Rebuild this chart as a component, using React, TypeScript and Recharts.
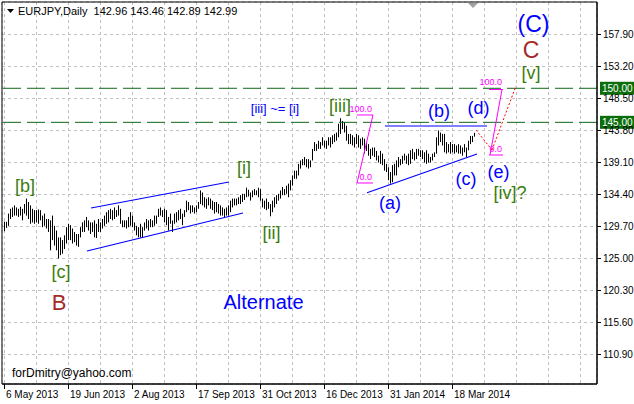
import { ComposedChart, XAxis, YAxis, CartesianGrid, Bar, ReferenceLine, ReferenceDot, ReferenceArea } from 'recharts';

// EURJPY daily bars, 6 May 2013 onwards (index = trading day)
const highs = [
  130.4, 130.4, 131.6, 132.3, 132.5, 132.8, 132.5, 132.3, 132.6, 132.3,
  133.0, 133.8, 133.3, 132.8, 132.3, 132.1, 132.1, 132.2, 132.1, 131.3,
  131.6, 130.8, 130.8, 130.6, 131.3, 129.8, 129.1, 128.1, 128.1, 127.7,
  128.4, 129.6, 130.1, 129.9, 129.4, 128.9, 128.6, 128.6, 129.6, 130.3,
  130.6, 131.1, 130.6, 130.3, 130.3, 130.6, 130.1, 130.8, 130.3, 130.8,
  131.3, 131.8, 132.1, 132.3, 132.1, 132.5, 132.1, 132.8, 132.3, 130.6,
  130.6, 130.6, 131.1, 131.8, 131.3, 130.3, 129.8, 129.6, 130.1, 129.6,
  130.3, 130.8, 130.6, 130.8, 130.6, 131.3, 131.3, 132.3, 132.5, 132.1,
  132.3, 132.1, 131.1, 131.6, 130.6, 131.6, 131.8, 132.1, 132.3, 131.6,
  132.1, 133.5, 133.3, 132.8, 132.8, 132.5, 132.8, 133.3, 135.0, 134.7,
  134.0, 133.8, 134.0, 133.8, 133.5, 133.3, 133.3, 133.0, 132.8, 132.5,
  132.3, 132.5, 132.8, 133.5, 133.8, 133.8, 133.8, 134.0, 134.3, 134.5,
  134.5, 135.4, 135.1, 134.7, 135.0, 135.2, 135.0, 135.4, 135.2, 133.8,
  133.5, 133.8, 133.3, 133.0, 133.5, 134.0, 134.3, 134.5, 135.0, 135.5,
  135.2, 135.7, 136.0, 136.5, 137.2, 137.9, 137.9, 138.9, 139.4, 139.6,
  139.9, 139.6, 139.6, 139.4, 141.1, 142.1, 141.8, 142.3, 142.1, 142.8,
  142.3, 142.3, 142.8, 142.8, 143.1, 143.3, 143.5, 144.8, 145.6, 145.2,
  145.0, 144.5, 143.3, 143.3, 143.1, 142.8, 143.3, 143.1, 142.6, 142.8,
  142.6, 142.1, 141.8, 141.1, 141.3, 141.3, 140.8, 140.1, 140.8, 140.4,
  139.6, 138.9, 138.4, 137.7, 138.7, 138.9, 139.4, 139.9, 139.6, 140.1,
  140.4, 140.1, 140.4, 140.9, 141.1, 140.6, 141.1, 141.1, 140.9, 140.9,
  140.6, 140.9, 140.4, 139.9, 140.4, 140.6, 142.8, 143.8, 143.5, 143.3,
  143.3, 142.1, 141.8, 142.1, 141.8, 141.8, 141.6, 141.8, 141.6, 141.3,
  141.8, 141.3, 142.3, 143.0, 143.0, 143.46,
];
const lows = [
  129.0, 129.5, 129.8, 130.8, 131.1, 131.3, 131.3, 131.1, 131.3, 130.6,
  131.6, 131.3, 130.8, 130.1, 130.3, 130.1, 130.3, 130.1, 130.6, 129.6,
  129.8, 129.4, 128.9, 126.2, 127.7, 126.9, 126.2, 125.0, 125.5, 125.7,
  126.4, 127.2, 127.7, 127.7, 127.2, 127.4, 126.9, 126.7, 128.1, 128.9,
  128.9, 129.6, 129.1, 128.6, 128.9, 128.1, 128.0, 128.9, 128.9, 129.4,
  129.8, 130.1, 130.3, 130.8, 130.6, 130.8, 131.1, 131.3, 130.1, 129.6,
  129.6, 129.4, 129.6, 129.8, 129.6, 129.1, 128.4, 128.1, 128.1, 128.0,
  129.1, 129.4, 129.1, 129.6, 129.6, 129.8, 130.1, 131.1, 131.3, 131.1,
  130.3, 129.9, 129.1, 130.1, 128.9, 130.1, 130.3, 130.6, 130.8, 129.9,
  131.1, 131.8, 132.1, 131.6, 131.8, 131.6, 131.8, 132.3, 133.0, 132.8,
  132.5, 132.3, 132.8, 132.3, 132.1, 131.6, 131.8, 131.6, 131.3, 131.3,
  131.1, 131.3, 131.3, 131.8, 132.5, 132.8, 132.8, 133.0, 133.0, 133.3,
  133.6, 134.0, 134.1, 133.5, 134.0, 134.3, 134.3, 134.0, 133.5, 132.5,
  132.3, 132.1, 132.3, 131.2, 131.8, 132.5, 133.0, 133.5, 133.8, 134.3,
  134.3, 134.5, 134.0, 135.0, 135.7, 136.7, 136.7, 137.2, 138.2, 138.7,
  138.7, 138.4, 138.2, 138.4, 139.4, 140.8, 140.8, 141.1, 141.1, 141.6,
  141.3, 141.1, 141.6, 141.3, 141.8, 142.1, 142.3, 142.8, 143.3, 144.0,
  143.5, 142.3, 141.8, 141.8, 141.6, 141.3, 141.8, 141.3, 141.1, 141.6,
  140.4, 140.8, 140.1, 139.6, 140.1, 139.9, 139.4, 139.1, 138.9, 138.7,
  137.9, 137.7, 136.5, 136.0, 136.2, 137.2, 137.2, 138.4, 138.7, 138.9,
  139.4, 138.9, 138.7, 138.9, 139.6, 139.4, 139.6, 140.1, 139.9, 139.6,
  139.1, 138.9, 139.1, 139.1, 139.4, 139.9, 140.4, 141.6, 142.1, 141.6,
  140.6, 140.4, 140.6, 140.4, 140.6, 140.4, 140.6, 140.4, 140.4, 140.1,
  140.6, 139.9, 140.9, 141.8, 142.1, 142.89,
];

const titleValues = ['142.96', '143.46', '142.89', '142.99'];
const xTicks = [0, 16, 32, 48, 64, 80, 96, 112, 128, 144, 160, 176, 192, 208, 224, 240, 256, 272, 288];
const dateLabels = ['6 May 2013', '19 Jun 2013', '2 Aug 2013', '17 Sep 2013', '31 Oct 2013', '16 Dec 2013', '31 Jan 2014', '18 Mar 2014'];
const priceTicks = [110.9, 115.6, 120.3, 125.0, 129.7, 134.4, 139.1, 143.8, 148.5, 153.2, 157.9];
const levels = [145, 150];

// trend lines: [i1, p1, i2, p2]
const blueLines = [
  [43.25, 132.42, 112.25, 136.24],
  [41.25, 126.1, 119.25, 131.68],
  [190.25, 144.46, 241.25, 144.46],
  [181.25, 134.66, 236.25, 140.35],
];
const fibLines = [
  [176.25, 146.08, 184.25, 146.08],
  [176.25, 136.09, 184.25, 136.09],
  [184.25, 146.08, 176.25, 136.09],
  [242.25, 149.82, 249.25, 149.82],
  [242.25, 140.2, 249.25, 140.2],
  [248.75, 149.82, 242.75, 140.2],
];
const fibTexts = [
  { text: '100.0', i: 183.75, p: 146.96 },
  { text: '0.0', i: 183.75, p: 136.97 },
  { text: '100.0', i: 248.75, p: 150.92 },
  { text: '0.0', i: 248.75, p: 141.08 },
];
const projection = [
  [235.75, 143.87, 243.75, 140.94],
  [243.75, 140.94, 255.75, 150.34],
];

const BLUE = '#0000ff';
const GREEN = '#3a7d0c';
const BROWN = '#a52a2a';
const FONT = '"Liberation Sans", Arial, sans-serif';

const waveLabels = [
  { text: '[b]', i: 10.25, p: 135.65, color: GREEN, size: 18 },
  { text: '[c]', i: 28.25, p: 123.02, color: GREEN, size: 18 },
  { text: 'B', i: 27.25, p: 118.61, color: BROWN, size: 22 },
  { text: '[i]', i: 119.75, p: 138.29, color: GREEN, size: 18 },
  { text: '[ii]', i: 133.5, p: 128.82, color: GREEN, size: 18 },
  { text: '[iii]', i: 167.75, p: 147.4, color: GREEN, size: 18 },
  { text: '[iii] ~= [i]', i: 135.25, p: 147.03, color: BLUE, size: 13 },
  { text: 'Alternate', i: 129.5, p: 118.68, color: BLUE, size: 20 },
  { text: '(a)', i: 192.75, p: 133.15, color: BLUE, size: 18 },
  { text: '(b)', i: 217.25, p: 146.66, color: BLUE, size: 18 },
  { text: '(c)', i: 230.75, p: 136.75, color: BLUE, size: 18 },
  { text: '(d)', i: 237, p: 147.1, color: BLUE, size: 18 },
  { text: '(e)', i: 247, p: 137.78, color: BLUE, size: 18 },
  { text: '[iv]?', i: 252.75, p: 134.62, color: GREEN, size: 18 },
  { text: '[v]', i: 263.25, p: 152.32, color: GREEN, size: 18 },
  { text: 'C', i: 263.25, p: 155.6, color: BROWN, size: 23 },
  { text: '(C)', i: 264.5, p: 159.45, color: BLUE, size: 23 },
];

const bars = highs.map((h, i) => ({ i, range: [lows[i], h] }));

const HLBar = (props: any) => {
  const { x, y, width, height } = props;
  const cx = Math.floor(x + width / 2) + 0.5;
  const top = Math.min(y, y + height);
  const bottom = Math.max(y, y + height);
  return <line x1={cx} x2={cx} y1={top} y2={bottom} stroke="#000" strokeWidth={1} />;
};

const DateTick = ({ x, y, payload }: any) => {
  const k = payload.value / 32;
  const label = Number.isInteger(k) ? dateLabels[k] : undefined;
  if (!label) return null;
  const tx = Math.floor(x) + 0.5;
  return (
    <g>
      <line x1={tx} x2={tx} y1={y} y2={y + 5} stroke="#000" />
      <text x={tx + 1.5} y={y + 14} fontFamily={FONT} fontSize={10} fill="#000">{label}</text>
    </g>
  );
};

const PriceTick = ({ x, y, payload }: any) => {
  const ty = Math.round(y - 0.5) + 0.5;
  return (
    <g>
      <line x1={x} x2={x + 4} y1={ty} y2={ty} stroke="#000" />
      <text x={x + 6} y={ty} dy="0.35em" fontFamily={FONT} fontSize={10} fill="#000">{payload.value.toFixed(2)}</text>
    </g>
  );
};

const LevelTag = ({ viewBox, value }: any) => {
  const x = viewBox.x + viewBox.width + 3;
  const y = viewBox.y;
  return (
    <g>
      <rect x={x} y={y - 6.5} width={34} height={13} fill="#0b6e0b" />
      <text x={x + 2} y={y} dy="0.35em" fontFamily={FONT} fontSize={10} fill="#fff">{value}</text>
    </g>
  );
};

const textShape = (t: any) => (props: any) => (
  <text
    x={props.cx}
    y={props.cy}
    dy="0.35em"
    textAnchor={t.anchor || 'middle'}
    fontFamily={FONT}
    fontSize={t.size}
    fill={t.color}
  >
    {t.text}
  </text>
);

export default function App() {
  return (
    <div style={{ position: 'absolute', left: 0, top: 0, width: 634, height: 404, background: '#fff' }}>
      <ComposedChart width={634} height={404} data={bars} margin={{ top: 2, right: 0, bottom: 0, left: 2 }}>
        <CartesianGrid stroke="#c0c0c0" strokeDasharray="3 3" />
        <XAxis
          type="number"
          dataKey="i"
          domain={[-1.25, 296.25]}
          ticks={xTicks}
          interval={0}
          allowDataOverflow
          height={20}
          tickLine={false}
          tickSize={0}
          tickMargin={0}
          axisLine={{ stroke: '#000' }}
          tick={<DateTick />}
        />
        <YAxis
          orientation="right"
          type="number"
          domain={[106.5671, 162.6734]}
          ticks={priceTicks}
          interval={0}
          allowDataOverflow
          width={37}
          tickLine={false}
          tickSize={0}
          tickMargin={0}
          axisLine={{ stroke: '#000' }}
          tick={<PriceTick />}
        />
        <ReferenceArea x1={-1.25} x2={296.25} y1={106.5671} y2={162.6734} fill="none" stroke="#000" />
        <Bar dataKey="range" barSize={1} shape={<HLBar />} isAnimationActive={false} />
        {levels.map((v) => (
          <ReferenceLine
            key={v}
            y={v}
            stroke="#11661a"
            strokeDasharray="18 6"
            label={<LevelTag value={v.toFixed(2)} />}
          />
        ))}
        {blueLines.map((l, k) => (
          <ReferenceLine key={'b' + k} segment={[{ x: l[0], y: l[1] }, { x: l[2], y: l[3] }]} stroke={BLUE} strokeWidth={1.2} />
        ))}
        {fibLines.map((l, k) => (
          <ReferenceLine key={'f' + k} segment={[{ x: l[0], y: l[1] }, { x: l[2], y: l[3] }]} stroke="#ff00ff" />
        ))}
        {projection.map((l, k) => (
          <ReferenceLine key={'r' + k} segment={[{ x: l[0], y: l[1] }, { x: l[2], y: l[3] }]} stroke="#ff0000" strokeDasharray="2 2" />
        ))}
        {fibTexts.map((t, k) => (
          <ReferenceDot key={'ft' + k} x={t.i} y={t.p} shape={textShape({ ...t, size: 9, color: '#ff00ff', anchor: 'end' })} />
        ))}
        {waveLabels.map((t, k) => (
          <ReferenceDot key={'w' + k} x={t.i} y={t.p} shape={textShape(t)} />
        ))}
        <ReferenceDot x={3.75} y={108.18} shape={textShape({ text: 'forDmitry@yahoo.com', size: 12, color: '#000', anchor: 'start' })} />
      </ComposedChart>
      <svg width={634} height={20} style={{ position: 'absolute', left: 0, top: 0, pointerEvents: 'none' }}>
        <polygon points="7,9 14,9 10.5,13" fill="#000" />
        <text x={18} y={14.5} fontFamily={FONT} fontSize={11} fill="#000" style={{ whiteSpace: 'pre' }}>
          {'EURJPY,Daily  ' + titleValues.join(' ')}
        </text>
        <polygon points="468,3 478,3 473,8" fill="#a0a0a0" />
      </svg>
    </div>
  );
}
